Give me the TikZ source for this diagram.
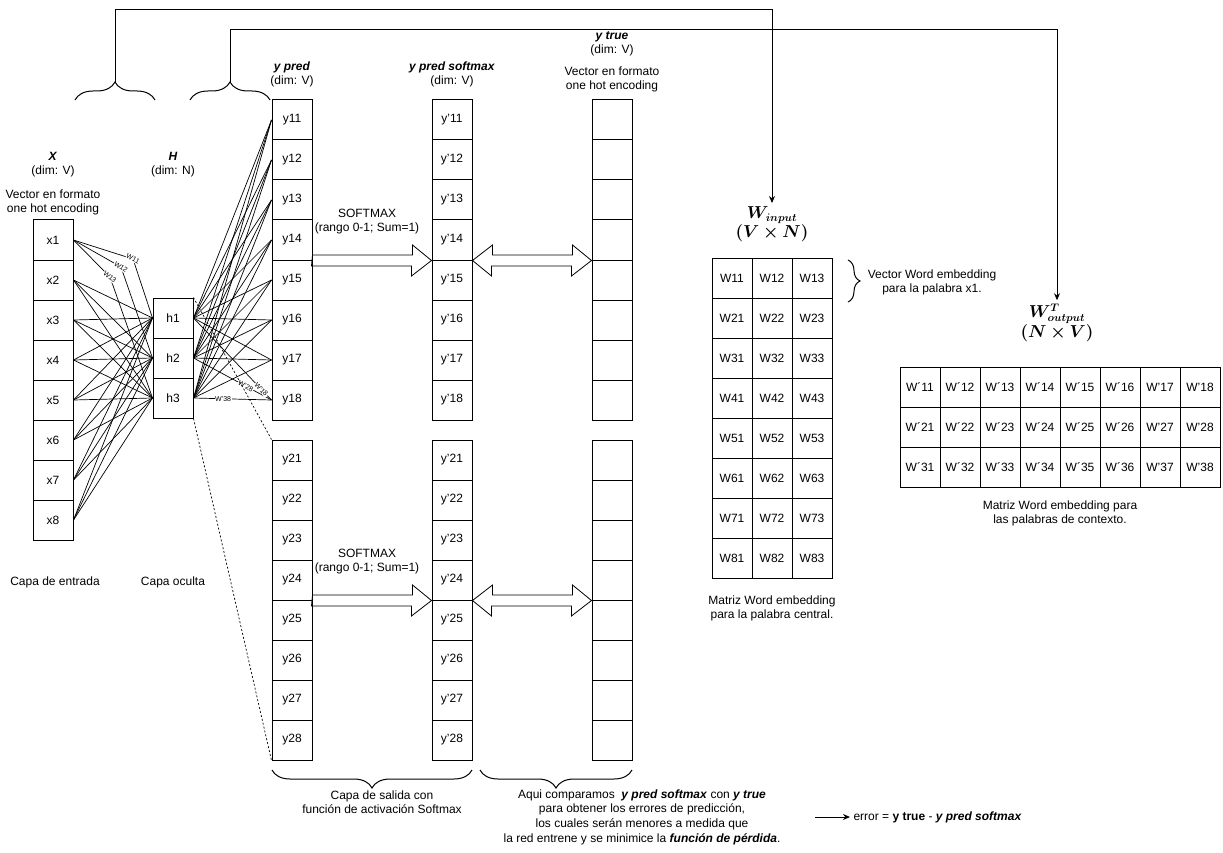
\documentclass[tikz,border=0pt]{standalone}
\usepackage{fontspec}
\setmainfont{Liberation Sans}
\usepackage{amsmath}
\usepackage{bm}
\usetikzlibrary{arrows.meta,decorations.pathreplacing}

\begin{document}
\begin{tikzpicture}[x=1pt, y=-1pt,
  every node/.style={font=\fontsize{12}{14}\selectfont},
  cell/.style={draw, line width=1pt, minimum width=40pt, minimum height=40pt, inner sep=0pt},
  hdr/.style={align=center},
  mathhdr/.style={align=center, font=\fontsize{16}{17}\selectfont},
  wlabel/.style={fill=white, inner sep=0.6pt, font=\fontsize{7}{8}\selectfont},
  link/.style={line width=0.7pt},
  arrowline/.style={line width=1pt, -{Stealth[length=7pt, width=6pt]}},
  fatline/.style={draw, line width=0.8pt, line join=miter},
  curly/.style={decorate, decoration={brace, amplitude=#1}, line width=1pt}
]
\useasboundingbox (0,0) rectangle (1223,853);

% Input layer
\foreach \i in {1,...,8}
  \node[cell] (x\i) at (53, 200+40*\i) {x\i};

% Hidden layer
\foreach \j in {1,2,3}
  \node[cell] (h\j) at (173, 278+40*\j) {h\j};

% Output layer, softmax and one hot vectors (two context words)
\foreach \k in {1,...,8} {
  \node[cell] (ya\k) at (292, 80+40*\k) {y1\k};
  \node[cell] (yb\k) at (292, 420+40*\k) {y2\k};
  \node[cell] (sa\k) at (452, 80+40*\k) {y'1\k};
  \node[cell] (sb\k) at (452, 420+40*\k) {y'2\k};
  \node[cell] (ta\k) at (612, 80+40*\k) {};
  \node[cell] (tb\k) at (612, 420+40*\k) {};
}

% Matrix W input
\foreach \r in {1,...,8}
  \foreach \c in {1,2,3}
    \node[cell] (win\r\c) at (692+40*\c, 238+40*\r) {W\r\c};

% Matrix W output
\foreach \r in {1,2,3} {
  \foreach \c in {1,...,6}
    \node[cell] (wout\r\c) at (880+40*\c, 347+40*\r) {W´\r\c};
  \foreach \c in {7,8}
    \node[cell] (wout\r\c) at (880+40*\c, 347+40*\r) {W'\r\c};
}

% Headers
\node[hdr] (xhead) at (53, 165) {\textbf{\textit{X}}\\(dim: V)};
\node[hdr] (xdesc) at (53, 202) {Vector en formato\\one hot encoding};
\node[hdr] (hhead) at (173, 165) {\textbf{\textit{H}}\\(dim: N)};
\node[hdr] (yhead) at (292, 74) {\textbf{\textit{y pred}}\\(dim: V)};
\node[hdr] (shead) at (452, 74) {\textbf{\textit{y pred softmax}}\\(dim: V)};
\node[hdr] (thead) at (612, 44) {\textbf{\textit{y true}}\\(dim: V)};
\node[hdr] (tdesc) at (612, 79) {Vector en formato\\one hot encoding};
\node[mathhdr] (winhead) at (772, 224) {$\bm{W}_{\bm{input}}$\\$\bm{(V\times N)}$};
\node[mathhdr] (wouthead) at (1057, 323) {$\bm{W}^{\bm{T}}_{\bm{output}}$\\$\bm{(N\times V)}$};

% Captions
\node (capain) at (55, 582) {Capa de entrada};
\node (capah) at (173, 582) {Capa oculta};
\node[hdr] (wincap) at (772, 608) {Matriz Word embedding\\para la palabra central.};
\node[hdr] (woutcap) at (1060, 513) {Matriz Word embedding para\\las palabras de contexto.};
\node[hdr] (vecdesc) at (932, 282) {Vector Word embedding\\para la palabra x1.};

% Softmax arrows
\node[hdr] (smlabel1) at (367, 222) {SOFTMAX\\(rango 0-1; Sum=1)};
\node[hdr] (smlabel2) at (367, 562) {SOFTMAX\\(rango 0-1; Sum=1)};
\draw[fatline] (ya4.south east) ++(0,-5.5) -- ++(100,0) -- ++(0,-10) -- (sa4.south west)
  -- ++(-20,15.5) -- ++(0,-10) -- ++(-100,0) -- cycle;
\draw[fatline] (yb4.south east) ++(0,-5.5) -- ++(100,0) -- ++(0,-10) -- (sb4.south west)
  -- ++(-20,15.5) -- ++(0,-10) -- ++(-100,0) -- cycle;
\draw[fatline] (sa4.south east) -- ++(20,-15.5) -- ++(0,10) -- ++(80,0) -- ++(0,-10) -- (ta4.south west)
  -- ++(-20,15.5) -- ++(0,-10) -- ++(-80,0) -- ++(0,10) -- cycle;
\draw[fatline] (sb4.south east) -- ++(20,-15.5) -- ++(0,10) -- ++(80,0) -- ++(0,-10) -- (tb4.south west)
  -- ++(-20,15.5) -- ++(0,-10) -- ++(-80,0) -- ++(0,10) -- cycle;

% Weights input -> hidden
\foreach \i in {2,...,8}
  \foreach \j in {1,2,3}
    \draw[link] (x\i.east) -- (h\j.west);
\draw[link] (x1.east) -- (133, 259) node[wlabel, rotate=-28] (w11) {W11} -- (h1.west);
\draw[link] (x1.east) -- (121, 267) node[wlabel, rotate=-34] (w12) {W12} -- (h2.west);
\draw[link] (x1.east) -- (110, 277) node[wlabel, rotate=-40] (w13) {W13} -- (h3.west);

% Weights hidden -> output
\foreach \j in {1,2,3}
  \foreach \k in {1,...,8}
    \draw[link] (h\j.east) -- (ya\k.west);
\path (h1.east) -- (ya8.west) node[wlabel, pos=0.87, sloped] (wp18) {W'18};
\path (h2.east) -- (ya8.west) node[wlabel, pos=0.67, sloped] (wp28) {W'28};
\path (h3.east) -- (ya8.west) node[wlabel, pos=0.38] (wp38) {W'38};
\draw[link, dash pattern=on 2pt off 2pt] (h1.north east) -- (yb1.north west);
\draw[link, dash pattern=on 2pt off 2pt] (h3.south east) -- (yb8.south west);

% Braces and links to the matrices
\draw[curly=18pt] (75, 100) -- (155, 100);
\draw[curly=18pt] (190, 100) -- (270, 100);
\coordinate (b1tip) at (115, 82);
\coordinate (top1) at (115, 10);
\coordinate (b2tip) at (230, 82);
\coordinate (top2) at (230, 30);
\draw[arrowline] (b1tip) -- (top1) -| (winhead.north);
\draw[arrowline] (b2tip) -- (top2) -| (wouthead.north);
\draw[curly=12pt] (848, 260) -- (848, 302);
\draw[curly=18pt] (472, 770) -- (272, 770);
\draw[curly=18pt] (632, 770) -- (480, 770);

% Bottom notes
\node[hdr] (capaout) at (382, 802) {Capa de salida con\\función de activación Softmax};
\node[hdr, font=\fontsize{12}{14.6}\selectfont] (cmptext) at (642, 817) {Aqui comparamos \ \textbf{\textit{y pred softmax}} con \textbf{\textit{y true}}\\para obtener los errores de predicción,\\los cuales serán menores a medida que\\la red entrene y se minimice la \textbf{\textit{función de pérdida}}.};
\node[anchor=west] (errtext) at (850, 817) {error = \textbf{y true} - \textbf{\textit{y pred softmax}}};
\coordinate (errstart) at (815, 817);
\draw[arrowline] (errstart) -- (errtext.west);
\end{tikzpicture}
\end{document}
